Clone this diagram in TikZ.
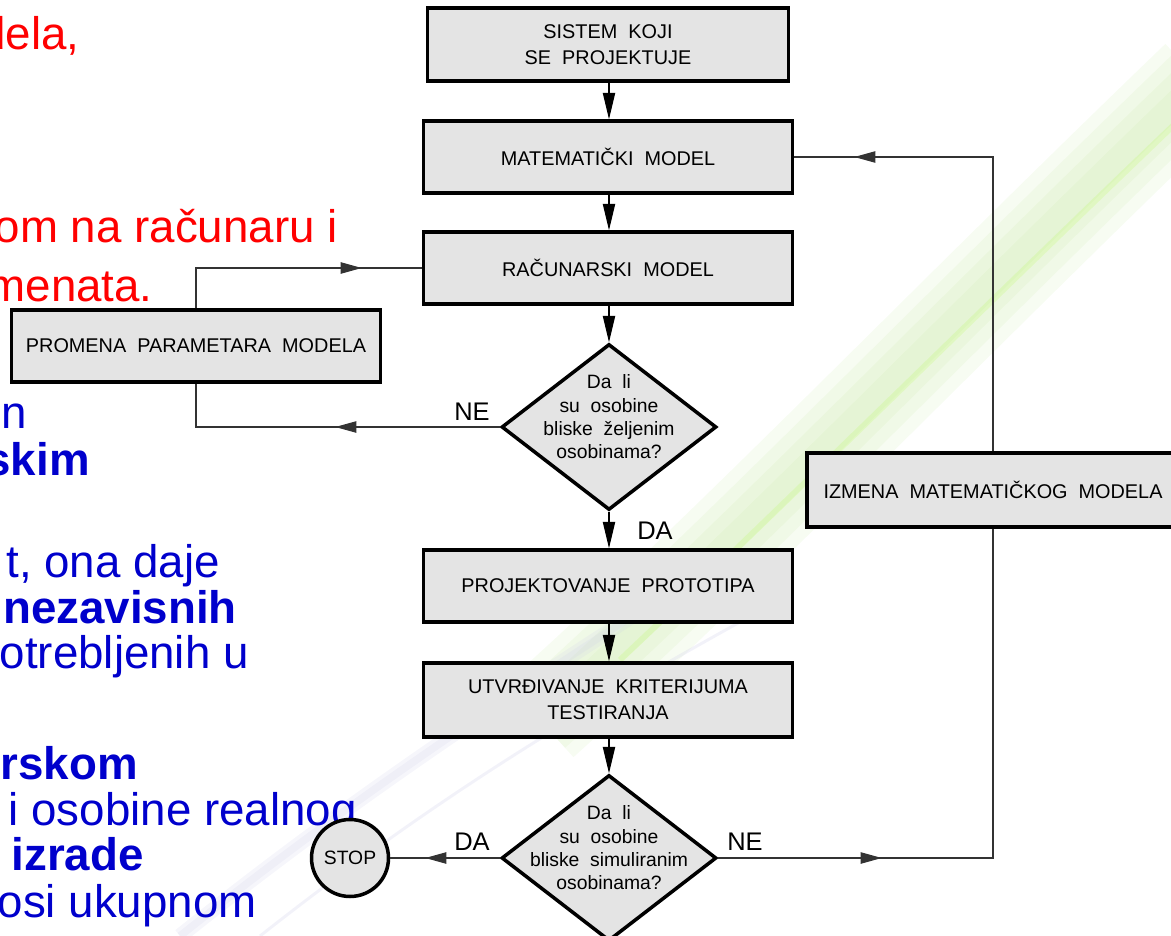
\documentclass[tikz,border=0pt]{standalone}
\usepackage{fontspec}
\setmainfont{Liberation Sans}
\newfontfamily\chartfont{Liberation Sans}[WordSpace=2]
\usepackage{tikz}
\usetikzlibrary{arrows.meta,shapes,positioning,decorations.markings}
\usepackage{xcolor}
\definecolor{boxgray}{RGB}{228,228,228}
\definecolor{slidered}{RGB}{255,0,0}
\definecolor{slideblue}{RGB}{0,0,204}
\definecolor{swooshgreen}{RGB}{190,228,150}
\definecolor{swooshblue}{RGB}{205,205,232}
\tikzstyle{arrow} = [line width=0.6pt,-{Triangle[length=15pt,width=7pt]},color=black]
\tikzstyle{line} = [line width=0.6pt,color=black!80]
\tikzstyle{block} = [rectangle, draw, line width=2pt, fill=boxgray, minimum width=7.38cm, minimum height=1.44cm, align=center, font=\chartfont\fontsize{11.3}{14.7}\selectfont]
\tikzstyle{decision} = [diamond, draw, line width=2pt, fill=boxgray, minimum width=4.3cm, minimum height=3.32cm, inner sep=0pt]
\tikzstyle{qtext} = [align=center, font=\chartfont\fontsize{11}{13.3}\selectfont]
\tikzstyle{yesno} = [font=\chartfont\fontsize{14.5}{16}\selectfont]
\tikzstyle{slide} = [anchor=base east, inner sep=0pt, font=\fontsize{26}{30}\selectfont]
\tikzset{midarrow/.style={decoration={markings, mark=at position #1 with {\arrow{Triangle[length=12pt,width=6.5pt]}}}, postaction={decorate}}}

\begin{document}
\begin{tikzpicture}[x=0.02cm, y=-0.02cm]
    \useasboundingbox (0,0) rectangle (1171,936);

    % faint background swoosh
    \foreach \w in {2.0,1.5,1.0,0.5}
        \draw[swooshgreen, line width=\w cm, opacity=0.12] (540,720) .. controls (740,540) and (940,330) .. (1200,80);
    \draw[green!40!yellow, line width=0.12cm, opacity=0.12] (620,660) .. controls (800,490) and (970,320) .. (1200,100);
    \foreach \w in {0.3,0.15}
        \draw[swooshblue, line width=\w cm, opacity=0.18] (180,936) .. controls (350,800) and (500,700) .. (720,560);
    \draw[swooshblue, line width=0.06cm, opacity=0.25] (260,936) .. controls (420,810) and (560,720) .. (780,600);

    % slide text behind the chart
    \node[slide, text=slidered] (t1) at (80,50) {dela,};
    \node[slide, text=slidered] (t2) at (338,242) {om na računaru i};
    \node[slide, text=slidered] (t3) at (153,301) {menata.};
    \node[slide, text=slideblue] (t4) at (27,428) {n};
    \node[slide, text=slideblue] (t5) at (90,475) {\textbf{skim}};
    \node[slide, text=slideblue] (t6) at (220,577) {t, ona daje};
    \node[slide, text=slideblue] (t7) at (237,623) {\textbf{nezavisnih}};
    \node[slide, text=slideblue] (t8) at (249,668) {otrebljenih u};
    \node[slide, text=slideblue] (t9) at (138,779) {\textbf{rskom}};
    \node[slide, text=slideblue] (t10) at (357,825) {i osobine realnog};
    \node[slide, text=slideblue] (t11) at (144,870) {\textbf{izrade}};
    \node[slide, text=slideblue] (t12) at (257,917) {osi ukupnom};

    % main column
    \node[block, minimum width=7.22cm, minimum height=1.46cm] (sys) at (608,44.5) {SISTEM KOJI\\SE PROJEKTUJE};
    \node[block] (mat) at (608,157) {MATEMATIČKI MODEL};
    \node[block] (rac) at (608,268) {RAČUNARSKI MODEL};
    \node[decision] (d1) at (609,427) {};
    \node[qtext] (q1) at (609,417) {Da li\\su osobine\\bliske željenim\\osobinama?};
    \node[block] (proj) at (608,586) {PROJEKTOVANJE PROTOTIPA};
    \node[block, minimum height=1.48cm] (krit) at (608,700) {UTVRĐIVANJE KRITERIJUMA\\TESTIRANJA};
    \node[decision] (d2) at (609,858) {};
    \node[qtext] (q2) at (609,848) {Da li\\su osobine\\bliske simuliranim\\osobinama?};

    % side boxes
    \node[block] (prom) at (196,346) {PROMENA PARAMETARA MODELA};
    \node[block, minimum width=7.44cm, minimum height=1.48cm] (izm) at (993,490) {IZMENA MATEMATIČKOG MODELA};
    \node[circle, draw, line width=2pt, fill=boxgray, minimum size=1.54cm, inner sep=0pt, font=\chartfont\fontsize{11}{13}\selectfont] (stop) at (350,858) {STOP};

    % flow
    \draw[arrow] (sys.south -| d1) -- (mat.north -| d1);
    \draw[arrow] (mat.south -| d1) -- (rac.north -| d1);
    \draw[arrow] (rac.south -| d1) -- (d1.north);
    \draw[arrow] (d1.south) -- (proj.north -| d1);
    \draw[arrow] (proj.south -| d1) -- (krit.north -| d1);
    \draw[arrow] (krit.south -| d1) -- (d2.north);

    % loops
    \draw[line, midarrow=3.29cm] (d1.west) -| (prom.south);
    \draw[line, midarrow=4.12cm] (prom.north) |- (rac.west);
    \draw[line, midarrow=3.27cm] (d2.east) -| (izm.south);
    \draw[line, midarrow=8.66cm] (izm.north) |- (mat.east);
    \draw[line, midarrow=1.49cm] (d2.west) -- (stop.east);

    % answers
    \node[yesno] (ne1) at (472,412) {NE};
    \node[yesno] (da1) at (655,531) {DA};
    \node[yesno] (da2) at (472,842) {DA};
    \node[yesno] (ne2) at (745,842) {NE};
\end{tikzpicture}
\end{document}
